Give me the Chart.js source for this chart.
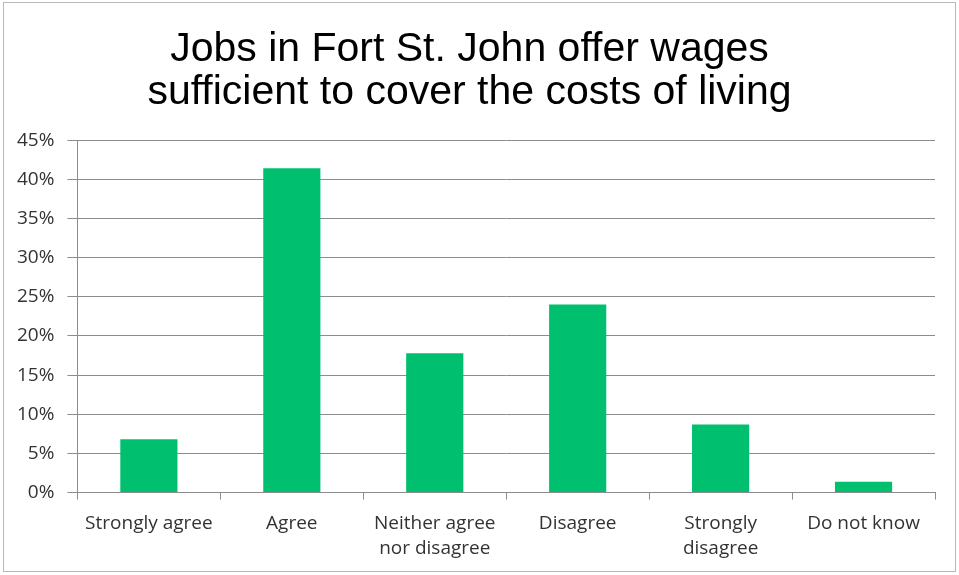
<!DOCTYPE html>
<html>
<head>
<meta charset="utf-8">
<script src="https://cdn.jsdelivr.net/npm/chart.js@4/dist/chart.umd.min.js"></script>
<style>
  body { margin: 0; background: #fff; }
  #box { position: absolute; left: 3px; top: 2px; width: 951px; height: 568px; border: 1px solid #b8b8b8; }
</style>
</head>
<body>
<div id="box"><canvas id="myChart"></canvas></div>
<script>
let categories = [ 'Strongly agree', 'Agree', ['Neither agree', 'nor disagree'], 'Disagree', ['Strongly', 'disagree'], 'Do not know' ];
let shares = [ 6.8, 41.4, 17.8, 24.0, 8.7, 1.4 ];
let titleLines = [ 'Jobs in Fort St. John offer wages', 'sufficient to cover the costs of living' ];

let ctx = document.getElementById('myChart').getContext('2d');
let barChart = new Chart(ctx, {
	type : 'bar',
	data : {
		labels : categories,
		datasets : [ {
			label : 'Share',
			data : shares,
			backgroundColor : '#00c070',
			barPercentage : 0.4,
			categoryPercentage : 1
		} ]
	},
	options : {
		responsive : true,
		maintainAspectRatio : false,
		animation : false,
		layout : {
			padding : { left : 0, right : 20, top : 0, bottom : -2 }
		},
		plugins : {
			legend : { display : false },
			tooltip : { enabled : false },
			title : {
				display : true,
				text : titleLines,
				color : '#000',
				font : { family : 'Liberation Sans', size : 41, weight : 'normal', lineHeight : 1.05 },
				padding : { top : 25, bottom : 26 }
			}
		},
		scales : {
			x : {
				offset : true,
				grid : { display : true, drawOnChartArea : false, color : '#8c8c8c', tickLength : 7, offset : true },
				border : { color : '#8c8c8c', width : 1 },
				ticks : { color : '#333', maxRotation : 0, autoSkip : false, padding : 12, font : { family : 'Open Sans', size : 19, lineHeight : 1.3 } }
			},
			y : {
				min : 0,
				max : 45,
				grid : { color : '#8c8c8c', tickLength : 10 },
				border : { color : '#8c8c8c', width : 1 },
				ticks : {
					stepSize : 5,
					color : '#333',
					padding : 13,
					font : { family : 'Open Sans', size : 19 },
					callback : function(v) { return v + '%'; }
				}
			}
		}
	}
})
</script>
</body>
</html>
